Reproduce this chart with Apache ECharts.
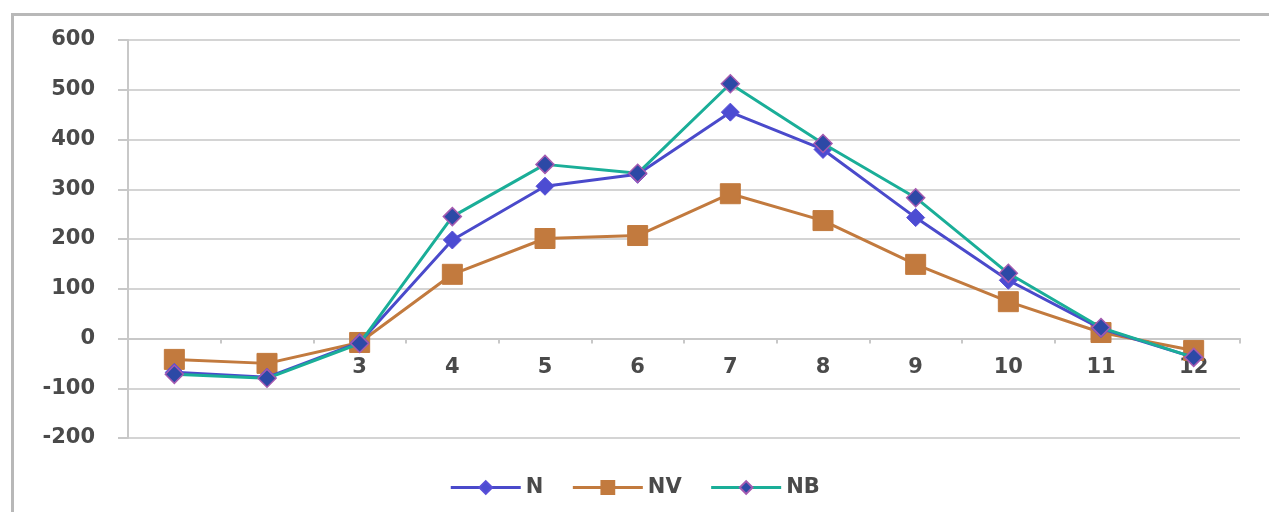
<!DOCTYPE html>
<html>
<head>
<meta charset="utf-8">
<script src="https://cdn.jsdelivr.net/npm/echarts@6/dist/echarts.min.js"></script>
<style>
  html, body { margin: 0; padding: 0; background: #fff; }
  #chart { width: 1269px; height: 512px; }
</style>
</head>
<body>
<div id="chart"></div>
<script>
  // data
  var categories = ['1', '2', '3', '4', '5', '6', '7', '8', '9', '10', '11', '12'];
  var seriesN  = [-68, -78, -8, 198, 306, 330, 455, 380, 243, 117, 20, -38];
  var seriesNV = [-42, -50, -8, 129, 201, 207, 291, 237, 149, 74, 12, -24];
  var seriesNB = [-72, -80, -10, 245, 350, 332, 512, 392, 283, 131, 22, -38];
  var yTicks = { min: -200, max: 600, interval: 100 };

  var chart = echarts.init(document.getElementById('chart'));
  var textColor = '#4a4a4a';
  var font = 'DejaVu Sans';

  // x axis sits on the zero line: distance from bottom of grid to value 0
  var gridTop = 40, gridBottom = 74;
  var plotH = 512 - gridTop - gridBottom;
  var zeroOffset = plotH * (0 - yTicks.min) / (yTicks.max - yTicks.min);

  chart.setOption({
    animation: false,
    backgroundColor: '#fff',
    graphic: [{
      type: 'rect',
      left: 10, top: 12,
      shape: { width: 1300, height: 600 },
      style: { fill: 'none', stroke: '#b8b8b8', lineWidth: 3 },
      silent: true
    }],
    grid: { left: 128, right: 29, top: gridTop, bottom: gridBottom },
    legend: {
      bottom: 9,
      left: 'center',
      itemWidth: 70,
      itemHeight: 16,
      itemGap: 28,
      lineStyle: { width: 3 },
      textStyle: { color: textColor, fontSize: 21, fontWeight: 'bold', fontFamily: font },
      data: ['N', 'NV', 'NB']
    },
    xAxis: {
      type: 'category',
      data: categories,
      boundaryGap: true,
      position: 'bottom',
      offset: -zeroOffset,
      axisLine: { onZero: false, lineStyle: { color: '#c8c8c8', width: 2 } },
      axisTick: { show: true, length: 5, lineStyle: { color: '#c8c8c8', width: 2 } },
      axisLabel: { color: textColor, fontSize: 21, fontWeight: 'bold', fontFamily: font, margin: 19 },
      splitLine: { show: false }
    },
    yAxis: {
      type: 'value',
      min: yTicks.min, max: yTicks.max, interval: yTicks.interval,
      axisLine: { show: true, lineStyle: { color: '#c8c8c8', width: 2 } },
      axisTick: { show: true, length: 10, lineStyle: { color: '#c8c8c8', width: 2 } },
      axisLabel: { color: textColor, fontSize: 21, fontWeight: 'bold', fontFamily: font, margin: 33 },
      splitLine: { lineStyle: { color: '#d4d4d4', width: 2 } }
    },
    series: [
      {
        name: 'N',
        type: 'line',
        data: seriesN,
        symbol: 'diamond',
        symbolSize: 18,
        z: 3,
        lineStyle: { color: '#4a4acb', width: 3 },
        itemStyle: { color: '#4c4cd2', borderColor: '#5a4fd8', borderWidth: 1 }
      },
      {
        name: 'NV',
        type: 'line',
        data: seriesNV,
        symbol: 'rect',
        symbolSize: 20,
        z: 2,
        lineStyle: { color: '#c27a3e', width: 3 },
        itemStyle: { color: '#c27a3e', borderColor: '#c27a3e', borderWidth: 1 }
      },
      {
        name: 'NB',
        type: 'line',
        data: seriesNB,
        symbol: 'diamond',
        symbolSize: 18,
        z: 4,
        lineStyle: { color: '#1aae98', width: 3 },
        itemStyle: { color: '#2c49a6', borderColor: '#a45ab0', borderWidth: 1.5 }
      }
    ]
  });
</script>
</body>
</html>
